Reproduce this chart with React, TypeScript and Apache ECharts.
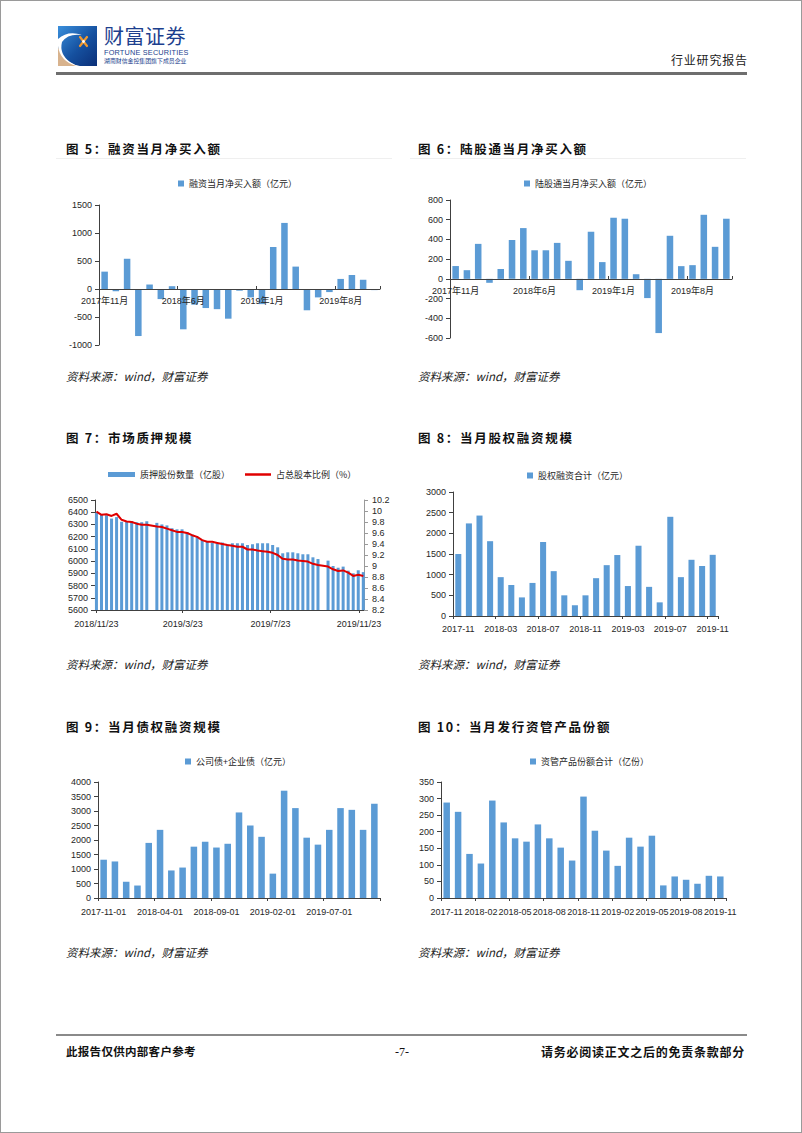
import React, { useEffect, useRef } from "react";
import * as echarts from "echarts";

// ---------- data ----------
const MONTHS = [
  "2017-11", "2017-12", "2018-01", "2018-02", "2018-03", "2018-04", "2018-05", "2018-06", "2018-07",
  "2018-08", "2018-09", "2018-10", "2018-11", "2018-12", "2019-01", "2019-02", "2019-03", "2019-04",
  "2019-05", "2019-06", "2019-07", "2019-08", "2019-09", "2019-10", "2019-11",
];
const MONTHS_CN = MONTHS.map((m) => {
  const [y, mo] = m.split("-");
  return `${y}年${parseInt(mo, 10)}月`;
});
const MONTHS_DAY = MONTHS.map((m) => `${m}-01`);

const MARGIN_NET_BUY = [310, -40, 540, -840, 80, -180, 50, -720, -280, -340, -360, -530, -30, -150, -270, 750, 1180, 400, -380, -150, -55, 180, 250, 165, -20];
const NORTHBOUND_NET_BUY = [130, 88, 355, -40, 100, 395, 515, 290, 290, 365, 183, -115, 478, 170, 620, 610, 47, -195, -550, 437, 129, 139, 650, 325, 610];
const EQUITY_FINANCING = [1500, 2240, 2430, 1810, 940, 750, 450, 800, 1790, 1085, 500, 260, 500, 915, 1230, 1475, 725, 1700, 705, 330, 2400, 940, 1360, 1210, 1480];
const BOND_FINANCING = [1320, 1260, 560, 430, 1900, 2350, 950, 1050, 1770, 1940, 1740, 1870, 2950, 2500, 2110, 840, 3700, 3100, 2080, 1840, 2350, 3100, 3040, 2350, 3250];
const AM_PRODUCTS = [288, 260, 133, 104, 294, 228, 180, 170, 222, 180, 152, 113, 306, 203, 143, 97, 182, 155, 188, 38, 65, 55, 43, 67, 65];

const PLEDGE_DATES = [
  "2018-11-23", "2018-11-30", "2018-12-07", "2018-12-14", "2018-12-21", "2018-12-28", "2019-01-04", "2019-01-11", "2019-01-18", "2019-01-25", "2019-02-01",
  "2019-02-15", "2019-02-22", "2019-03-01", "2019-03-08", "2019-03-15", "2019-03-22", "2019-03-29", "2019-04-05", "2019-04-12", "2019-04-19", "2019-04-26",
  "2019-05-03", "2019-05-10", "2019-05-17", "2019-05-24", "2019-05-31", "2019-06-07", "2019-06-14", "2019-06-21", "2019-06-28", "2019-07-05", "2019-07-12",
  "2019-07-19", "2019-07-26", "2019-08-02", "2019-08-09", "2019-08-16", "2019-08-23", "2019-08-30", "2019-09-06", "2019-09-13", "2019-09-20", "2019-09-27",
  "2019-10-11", "2019-10-18", "2019-10-25", "2019-11-01", "2019-11-08", "2019-11-15", "2019-11-22", "2019-11-29",
];
const PLEDGE_SHARES = [
  6395, 6380, 6375, 6348, 6360, 6322, 6322, 6328, 6318, 6318, 6326,
  6313, 6300, 6292, 6269, 6260, 6260, 6238, 6217, 6198, 6172, 6158, 6150, 6145, 6152, 6135, 6146, 6146, 6146, 6132, 6138, 6146, 6146, 6146, 6132, 6113,
  6064, 6072, 6072, 6064, 6056, 6056, 6031, 6017,
  6004, 5960, 5946, 5955, 5922, 5900, 5925, 5910,
];
const PLEDGE_RATIO = [
  9.99, 9.93, 9.94, 9.91, 9.95, 9.84, 9.81, 9.8, 9.77, 9.75, 9.75,
  9.72, 9.71, 9.68, 9.65, 9.62, 9.62, 9.6, 9.56, 9.53, 9.47, 9.44, 9.44, 9.42, 9.4, 9.38, 9.37, 9.35, 9.35, 9.3, 9.3, 9.28, 9.27, 9.26, 9.24, 9.2,
  9.13, 9.12, 9.12, 9.1, 9.09, 9.08, 9.04, 9.02,
  8.99, 8.94, 8.91, 8.92, 8.88, 8.82, 8.84, 8.82,
];
const PLEDGE_TICK_LABELS = ["2018/11/23", "2019/3/23", "2019/7/23", "2019/11/23"];

// ---------- helpers ----------
const toTs = (s: string) => {
  const p = s.split(/[-/]/).map((x) => parseInt(x, 10));
  return Date.UTC(p[0], p[1] - 1, p[2]);
};
const fmtTs = (v: number) => {
  const d = new Date(v);
  return `${d.getUTCFullYear()}/${d.getUTCMonth() + 1}/${d.getUTCDate()}`;
};

const FONT_NUM = "'Liberation Sans', 'Noto Sans CJK SC', sans-serif";
const FONT_CJK = "'Noto Sans CJK SC', sans-serif";
const BAR = "#5B9BD5";
const RED = "#E00000";
const AX = "#404040";
const LBL = "#262626";

const valueAxis = (gridIndex: number, min: number, max: number, interval: number, extra: any = {}) => ({
  type: "value",
  gridIndex,
  min,
  max,
  interval,
  axisLine: { show: true, lineStyle: { color: AX, width: 1 } },
  axisTick: { show: true, length: 4, lineStyle: { color: AX } },
  axisLabel: { fontSize: 9, color: LBL, fontFamily: FONT_NUM, margin: 7, formatter: (v: number) => String(v) },
  splitLine: { show: false },
  ...extra,
});

// offset < 0 lifts the whole category axis (line, ticks, labels) up to the zero line
const catAxis = (gridIndex: number, data: string[], interval: number, margin: number, tickInside: boolean, offset = 0) => ({
  type: "category",
  gridIndex,
  data,
  boundaryGap: true,
  offset,
  z: 4,
  axisLine: { show: true, onZero: false, lineStyle: { color: AX, width: 1 } },
  axisTick: { show: true, interval, length: 3, inside: tickInside, lineStyle: { color: AX } },
  axisLabel: { interval, fontSize: 9, color: LBL, fontFamily: FONT_NUM, margin },
  splitLine: { show: false },
});

const legendAt = (name: string, left: number, top: number, w = 6, h = 6) => ({
  data: [name],
  left,
  top,
  icon: "rect",
  itemWidth: w,
  itemHeight: h,
  padding: 0,
  textStyle: { fontSize: 9, color: LBL, fontFamily: FONT_CJK },
  selectedMode: false,
});

const pledgeTicks = PLEDGE_TICK_LABELS.map(toTs);

const option: any = {
  animation: false,
  backgroundColor: "transparent",
  grid: [
    { left: 99, top: 205, width: 281, height: 140 },
    { left: 450, top: 200, width: 282, height: 138 },
    { left: 95, top: 500, width: 269, height: 110 },
    { left: 453, top: 492, width: 265, height: 124 },
    { left: 98, top: 782, width: 282, height: 116 },
    { left: 441, top: 782, width: 285, height: 116 },
  ],
  legend: [
    legendAt("融资当月净买入额（亿元）", 178, 179),
    legendAt("陆股通当月净买入额（亿元）", 524, 179),
    legendAt("质押股份数量（亿股）", 108, 470, 27, 5),
    legendAt("占总股本比例（%）", 245, 470, 26, 2.5),
    legendAt("股权融资合计（亿元）", 527, 471),
    legendAt("公司债+企业债（亿元）", 185, 757),
    legendAt("资管产品份额合计（亿份）", 530, 757),
  ],
  xAxis: [
    catAxis(0, MONTHS_CN, 6, 7, true, -56),
    catAxis(1, MONTHS_CN, 6, 7, true, -59),
    {
      type: "value",
      gridIndex: 2,
      min: toTs("2018-11-21"),
      max: toTs("2019-11-30"),
      axisLine: { show: true, onZero: false, lineStyle: { color: AX, width: 1 } },
      axisTick: { show: true, length: 3, customValues: pledgeTicks, lineStyle: { color: AX } },
      axisLabel: {
        customValues: pledgeTicks,
        formatter: (v: number) => fmtTs(v),
        fontSize: 9,
        color: LBL,
        fontFamily: FONT_NUM,
        margin: 9,
      },
      splitLine: { show: false },
    },
    catAxis(3, MONTHS, 3, 8, false),
    catAxis(4, MONTHS_DAY, 4, 9, false),
    catAxis(5, MONTHS, 2, 9, false),
  ],
  yAxis: [
    valueAxis(0, -1000, 1500, 500),
    valueAxis(1, -600, 800, 200),
    valueAxis(2, 5600, 6500, 100),
    valueAxis(2, 8.2, 10.2, 0.2, {
      position: "right",
      axisLine: { show: true, lineStyle: { color: "#9a9a9a", width: 1 } },
      axisTick: { show: true, length: 4, lineStyle: { color: "#9a9a9a" } },
      axisLabel: {
        fontSize: 9,
        color: LBL,
        fontFamily: FONT_NUM,
        margin: 8,
        formatter: (v: number) => String(Math.round(v * 10) / 10),
      },
    }),
    valueAxis(3, 0, 3000, 500),
    valueAxis(4, 0, 4000, 500),
    valueAxis(5, 0, 350, 50),
  ],
  series: [
    { name: "融资当月净买入额（亿元）", type: "bar", xAxisIndex: 0, yAxisIndex: 0, data: MARGIN_NET_BUY, barWidth: "58%", itemStyle: { color: BAR } },
    { name: "陆股通当月净买入额（亿元）", type: "bar", xAxisIndex: 1, yAxisIndex: 1, data: NORTHBOUND_NET_BUY, barWidth: "58%", itemStyle: { color: BAR } },
    {
      name: "质押股份数量（亿股）",
      type: "bar",
      xAxisIndex: 2,
      yAxisIndex: 2,
      data: PLEDGE_DATES.map((d, i) => [toTs(d), PLEDGE_SHARES[i]]),
      barWidth: 3,
      itemStyle: { color: BAR },
    },
    {
      name: "占总股本比例（%）",
      type: "line",
      xAxisIndex: 2,
      yAxisIndex: 3,
      data: PLEDGE_DATES.map((d, i) => [toTs(d), PLEDGE_RATIO[i]]),
      showSymbol: false,
      symbol: "none",
      lineStyle: { color: RED, width: 2 },
      itemStyle: { color: RED },
      z: 5,
    },
    { name: "股权融资合计（亿元）", type: "bar", xAxisIndex: 3, yAxisIndex: 4, data: EQUITY_FINANCING, barWidth: "57%", itemStyle: { color: BAR } },
    { name: "公司债+企业债（亿元）", type: "bar", xAxisIndex: 4, yAxisIndex: 5, data: BOND_FINANCING, barWidth: "58%", itemStyle: { color: BAR } },
    { name: "资管产品份额合计（亿份）", type: "bar", xAxisIndex: 5, yAxisIndex: 6, data: AM_PRODUCTS, barWidth: "57%", itemStyle: { color: BAR } },
  ],
};

// ---------- page chrome ----------
const CJK = "'Noto Sans CJK SC', 'Liberation Serif', serif";

const Txt = (props: { x?: number; right?: number; y: number; size: number; style?: any; children: any }) => (
  <div
    style={{
      position: "absolute",
      left: props.x,
      right: props.right,
      top: props.y,
      fontSize: props.size,
      lineHeight: 1,
      whiteSpace: "nowrap",
      fontFamily: CJK,
      color: "#111",
      ...props.style,
    }}
  >
    {props.children}
  </div>
);

const TITLE_STYLE = { fontWeight: 700, letterSpacing: 1.7 };
const SRC_STYLE = { fontStyle: "italic", color: "#222" };

const TITLES = [
  { x: 66, y: 143, t: "图 5：融资当月净买入额" },
  { x: 418, y: 143, t: "图 6：陆股通当月净买入额" },
  { x: 66, y: 432, t: "图 7：市场质押规模" },
  { x: 418, y: 432, t: "图 8：当月股权融资规模" },
  { x: 66, y: 721, t: "图 9：当月债权融资规模" },
  { x: 418, y: 721, t: "图 10：当月发行资管产品份额" },
];
const SOURCES = [
  { x: 66, y: 371 },
  { x: 418, y: 371 },
  { x: 66, y: 659 },
  { x: 418, y: 659 },
  { x: 66, y: 947 },
  { x: 418, y: 947 },
];

const Logo = () => (
  <svg style={{ position: "absolute", left: 57, top: 25 }} width={39} height={40} viewBox="0 0 39 40">
    <defs>
      <linearGradient id="lgBlue" x1="0" y1="0" x2="1" y2="1">
        <stop offset="0" stopColor="#3a8fdc" />
        <stop offset="0.55" stopColor="#15509f" />
        <stop offset="1" stopColor="#0b2f78" />
      </linearGradient>
    </defs>
    <rect x="0" y="0" width="39" height="40" fill="url(#lgBlue)" />
    <path d="M0 20 Q3 34 20 40 L0 40 Z" fill="#d8b38e" />
    <path d="M0 13 Q10 4 24 9 Q10 7 4 16 Q1 28 12 36 Q16 39 22 40 L18 40 Q2 35 0 20 Z" fill="#ffffff" />
    <path d="M22 11 L29 20 M29 11 L22 20" stroke="#f39a2e" strokeWidth="2.2" strokeLinecap="round" />
    <circle cx="25.5" cy="15.5" r="1.4" fill="#fff" />
  </svg>
);

export default function App() {
  const ref = useRef<HTMLDivElement>(null);
  useEffect(() => {
    const chart = echarts.init(ref.current as HTMLDivElement, undefined, { renderer: "svg" });
    chart.setOption(option);
    return () => chart.dispose();
  }, []);

  return (
    <div
      style={{
        position: "absolute",
        left: 0,
        top: 0,
        width: 802,
        height: 1133,
        background: "#fff",
        overflow: "hidden",
        boxSizing: "border-box",
        border: "1px solid #9a9a9a",
      }}
    >
      <div ref={ref} style={{ position: "absolute", left: -1, top: -1, width: 802, height: 1133 }} />

      {/* header */}
      <Logo />
      <Txt x={103} y={25} size={20} style={{ color: "#1d3f8e", letterSpacing: 0.5 }}>
        财富证券
      </Txt>
      <Txt x={103} y={48} size={7.3} style={{ color: "#1d3f8e", fontFamily: FONT_NUM, letterSpacing: 0.2 }}>
        FORTUNE SECURITIES
      </Txt>
      <Txt x={103} y={57} size={5.9} style={{ color: "#1d3f8e" }}>
        湖南财信金控集团旗下成员企业
      </Txt>
      <Txt x={670} y={53} size={12} style={{ letterSpacing: 0.8, color: "#222" }}>
        行业研究报告
      </Txt>
      <div style={{ position: "absolute", left: 55, top: 71, width: 691, height: 2.5, background: "#6e6e6e" }} />

      {/* titles */}
      {TITLES.map((t, i) => (
        <Txt key={"t" + i} x={t.x - 1} y={t.y - 1} size={12.5} style={TITLE_STYLE}>
          {t.t}
        </Txt>
      ))}
      <div style={{ position: "absolute", left: 55, top: 157, width: 336, height: 1, background: "#efefef" }} />
      <div style={{ position: "absolute", left: 409, top: 157, width: 336, height: 1, background: "#efefef" }} />

      {/* sources */}
      {SOURCES.map((s, i) => (
        <Txt key={"s" + i} x={s.x - 1} y={s.y - 1} size={11.5} style={SRC_STYLE}>
          资料来源：wind，财富证券
        </Txt>
      ))}

      {/* footer */}
      <div style={{ position: "absolute", left: 55, top: 1033, width: 691, height: 1.5, background: "#8a8a8a" }} />
      <Txt x={65} y={1045} size={11.5} style={{ fontWeight: 700, letterSpacing: 0.3 }}>
        此报告仅供内部客户参考
      </Txt>
      <Txt x={390} y={1045} size={12} style={{ fontFamily: "'Liberation Serif', serif", width: 22, textAlign: "center" }}>
        -7-
      </Txt>
      <Txt right={56} y={1045} size={12} style={{ fontWeight: 700, letterSpacing: 0.75 }}>
        请务必阅读正文之后的免责条款部分
      </Txt>
    </div>
  );
}
